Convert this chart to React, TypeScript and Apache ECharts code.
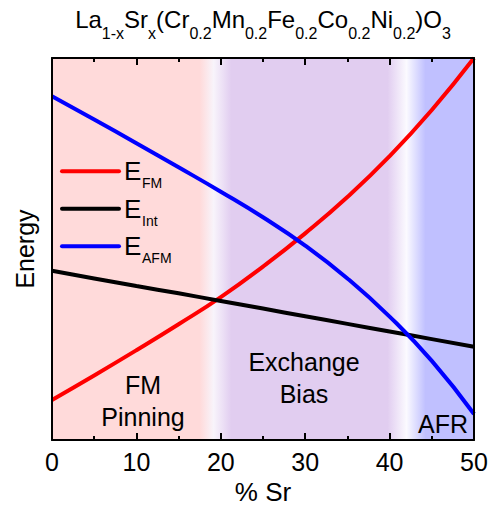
import React, { useEffect, useRef } from "react";
import * as echarts from "echarts";

const FONT = "Liberation Sans, Arial, Helvetica, sans-serif";

// % Sr values at which the curves were read
const srPercent = [0, 5, 10, 15, 20, 25, 30, 35, 40, 45, 50];
// Energies (arbitrary units, 0..100 of the plot height)
const eFM = [10.5, 16.9, 23.5, 30.3, 37.4, 45.4, 54.1, 63.6, 74.3, 86.4, 100];
const eInt = [44.3, 42.3, 40.3, 38.4, 36.4, 34.4, 32.4, 30.4, 28.4, 26.4, 24.4];
const eAFM = [90.0, 83.9, 77.7, 71.4, 65.0, 58.3, 50.9, 42.3, 32.3, 20.7, 6.8];

const xMin = 0;
const xMax = 50;
const xInterval = 10;

const seriesNames = ["E_FM", "E_Int", "E_AFM"];
const seriesColors = ["#ff0000", "#000000", "#0000ff"];
const legendSubs = ["FM", "Int", "AFM"];

const regionLabels = ["FM\nPinning", "Exchange\nBias", "AFR"];

export default function App() {
  const ref = useRef<HTMLDivElement>(null);

  useEffect(() => {
    const chart = echarts.init(ref.current!, null, { renderer: "svg" });

    const pts = (ys: number[]) => srPercent.map((x, i) => [x, ys[i]]);

    const bg = new echarts.graphic.LinearGradient(0, 0, 1, 0, [
      { offset: 0, color: "#ffdada" },
      { offset: 0.35, color: "#ffdada" },
      { offset: 0.383, color: "#f8f4fb" },
      { offset: 0.425, color: "#e1cdf0" },
      { offset: 0.795, color: "#e1cdf0" },
      { offset: 0.84, color: "#fbfaff" },
      { offset: 0.885, color: "#c0c0ff" },
      { offset: 1, color: "#c0c0ff" },
    ]);

    const axisLine = { show: true, onZero: false, lineStyle: { color: "#000", width: 2 } };
    const tick = { show: true, inside: true, length: 7, lineStyle: { color: "#000", width: 2 } };
    const minor = { show: true, splitNumber: 2, length: 4, lineStyle: { color: "#000", width: 2 } };

    const titleText =
      "{m|La}{s|1-x}{m|Sr}{s|x}{m|(Cr}{s|0.2}{m|Mn}{s|0.2}{m|Fe}{s|0.2}{m|Co}{s|0.2}{m|Ni}{s|0.2}{m|)O}{s|3}";

    const legendY = [171.3, 208.8, 246.3];
    const legendGraphics: any[] = [];
    seriesColors.forEach((c, i) => {
      legendGraphics.push({
        type: "line",
        shape: { x1: 62, y1: legendY[i], x2: 119, y2: legendY[i] },
        style: { stroke: c, lineWidth: 4, lineCap: "round" },
        z: 100,
      });
      legendGraphics.push({
        type: "text",
        x: 124,
        y: legendY[i],
        style: { text: "E", fontSize: 26, fontFamily: FONT, fill: "#000", align: "left", verticalAlign: "middle" },
        z: 100,
      });
      legendGraphics.push({
        type: "text",
        x: 142,
        y: legendY[i] + 12,
        style: { text: legendSubs[i], fontSize: 14, fontFamily: FONT, fill: "#000", align: "left", verticalAlign: "middle" },
        z: 100,
      });
    });

    const labelStyle = { fontSize: 25, fontFamily: FONT, fill: "#000", lineHeight: 32, verticalAlign: "middle" };

    const option: any = {
      animation: false,
      backgroundColor: "#ffffff",
      grid: { left: 52, right: 16, top: 58, bottom: 66, containLabel: false, outerBoundsMode: "none" },
      xAxis: [
        {
          type: "value",
          min: xMin,
          max: xMax,
          interval: xInterval,
          position: "bottom",
          name: "% Sr",
          nameLocation: "middle",
          nameGap: 37,
          nameTextStyle: { fontSize: 26, color: "#000", fontFamily: FONT },
          axisLine,
          axisTick: tick,
          minorTick: minor,
          axisLabel: { fontSize: 25, color: "#000", margin: 9, fontFamily: FONT },
          splitLine: { show: false },
          minorSplitLine: { show: false },
          z: 10,
        },
        {
          type: "value",
          min: xMin,
          max: xMax,
          interval: xInterval,
          position: "top",
          axisLine,
          axisTick: tick,
          minorTick: minor,
          axisLabel: { show: false },
          splitLine: { show: false },
          minorSplitLine: { show: false },
          z: 10,
        },
      ],
      yAxis: [
        {
          type: "value",
          min: 0,
          max: 100,
          name: "Energy",
          nameLocation: "middle",
          nameGap: 15,
          nameTextStyle: { fontSize: 25, color: "#000", fontFamily: FONT },
          axisLine,
          axisTick: { show: false },
          axisLabel: { show: false },
          splitLine: { show: false },
          z: 10,
        },
        {
          type: "value",
          min: 0,
          max: 100,
          position: "right",
          axisLine,
          axisTick: { show: false },
          axisLabel: { show: false },
          splitLine: { show: false },
          z: 10,
        },
      ],
      series: [
        {
          name: seriesNames[0],
          type: "line",
          data: pts(eFM),
          smooth: 0.5,
          symbol: "none",
          lineStyle: { color: seriesColors[0], width: 4 },
          z: 3,
          markArea: {
            silent: true,
            z: 1,
            itemStyle: { color: bg },
            data: [[{ xAxis: xMin, yAxis: 0 }, { xAxis: xMax, yAxis: 100 }]],
          },
        },
        {
          name: seriesNames[1],
          type: "line",
          data: pts(eInt),
          smooth: 0.5,
          symbol: "none",
          lineStyle: { color: seriesColors[1], width: 4 },
          z: 4,
        },
        {
          name: seriesNames[2],
          type: "line",
          data: pts(eAFM),
          smooth: 0.5,
          symbol: "none",
          lineStyle: { color: seriesColors[2], width: 4 },
          z: 5,
        },
      ],
      graphic: [
        {
          type: "text",
          x: 263,
          y: 7.5,
          style: {
            text: titleText,
            align: "center",
            verticalAlign: "top",
            fill: "#000",
            fontFamily: FONT,
            rich: {
              m: { fontSize: 24, lineHeight: 24, fontFamily: FONT, fill: "#000" },
              s: { fontSize: 16, lineHeight: 16, padding: [28, 0, 0, 0], fontFamily: FONT, fill: "#000" },
            },
          },
          z: 100,
        },
        ...legendGraphics,
        {
          type: "text",
          x: 143,
          y: 400.5,
          style: { ...labelStyle, text: regionLabels[0], align: "center" },
          z: 100,
        },
        {
          type: "text",
          x: 304,
          y: 377.5,
          style: { ...labelStyle, text: regionLabels[1], align: "center" },
          z: 100,
        },
        {
          type: "text",
          x: 468,
          y: 424,
          style: { ...labelStyle, text: regionLabels[2], align: "right" },
          z: 100,
        },
      ],
    };

    chart.setOption(option);
    return () => chart.dispose();
  }, []);

  return (
    <div
      ref={ref}
      style={{ position: "fixed", left: 0, top: 0, width: 490, height: 506, background: "#fff" }}
    />
  );
}
